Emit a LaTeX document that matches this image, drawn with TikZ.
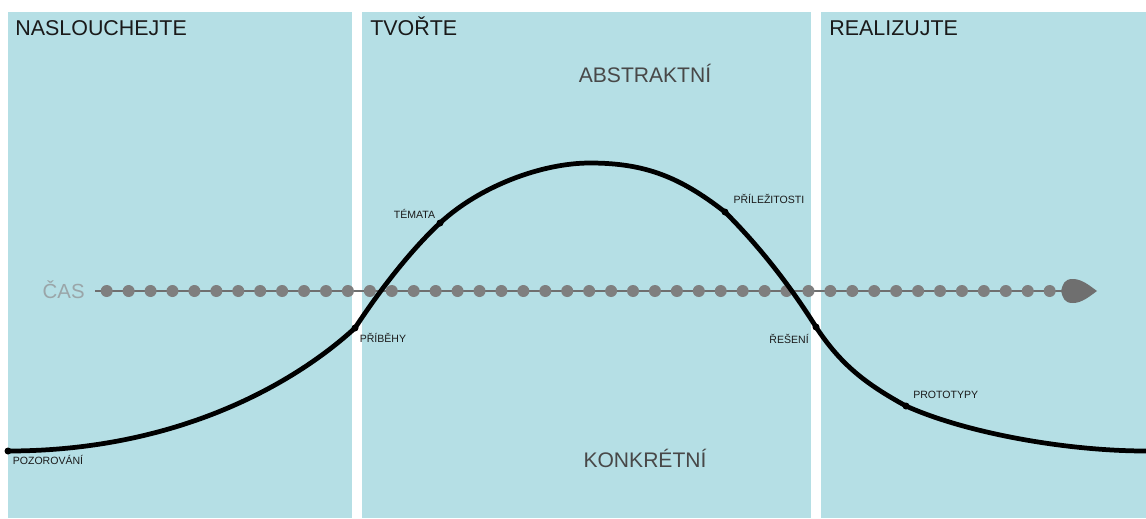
\documentclass[tikz,border=0pt]{standalone}
\usepackage{fontspec}
\setmainfont{Liberation Sans}
\usetikzlibrary{positioning}
\definecolor{panel}{HTML}{B5DFE5}
\definecolor{dotgray}{HTML}{7F7F7F}
\definecolor{linegray}{HTML}{6F6F6F}
\definecolor{timegray}{HTML}{9AA5A8}
\definecolor{ink}{HTML}{1A1A1A}
\tikzset{panelbox/.style={fill=panel,draw=none},
heading/.style={anchor=base west,font=\fontsize{12.2}{14}\selectfont,text=ink,inner sep=0pt},
level/.style={anchor=base,font=\fontsize{12}{14}\selectfont,text=ink!80,inner sep=0pt},
tick/.style={circle,fill=dotgray,minimum size=0.24cm,inner sep=0pt},
pt/.style={circle,fill=black,minimum size=0.14cm,inner sep=0pt},
lbl/.style={font=\fontsize{6}{7}\selectfont,text=ink,inner sep=1pt},
flow/.style={line width=2.7pt,black}}

\begin{document}
\begin{tikzpicture}[x=0.02cm,y=-0.02cm]
\useasboundingbox[fill=white] (0,0) rectangle (1146,518);
% three phases
\fill[panelbox] (8,12) rectangle (352,518);
\fill[panelbox] (362,12) rectangle (811,518);
\fill[panelbox] (821,12) rectangle (1146,518);
\node[heading] (h1) at (15,35) {NASLOUCHEJTE};
\node[heading] (h2) at (370,35) {TVOŘTE};
\node[heading] (h3) at (829,35) {REALIZUJTE};
\node[level] (abs) at (645,82) {ABSTRAKTNÍ};
\node[level] (kon) at (645,467) {KONKRÉTNÍ};
% time axis
\node[anchor=base east,inner sep=0pt,text=timegray,font=\fontsize{11.6}{14}\selectfont] (cas) at (85,298) {ČAS};
\coordinate (t0) at (95,291);
\coordinate (tip) at (1061,291);
\draw[linegray,line width=0.6pt] (t0) -- (tip);
\foreach \i in {0,...,43} \node[tick] (d\i) at ({106.7+21.93*\i},291) {};
\fill[linegray] (tip) .. controls (1063,284) and (1064,279) .. (1073,279)
  .. controls (1082,279) and (1090,286) .. (1097,291)
  .. controls (1090,296) and (1082,303) .. (1073,303)
  .. controls (1064,303) and (1063,298) .. (tip) -- cycle;
% curve
\node[pt,label={[lbl]below right:POZOROVÁNÍ}] (poz) at (8,451) {};
\node[pt,label={[lbl]below right:PŘÍBĚHY}] (pri) at (355,328) {};
\node[pt,label={[lbl]above left:TÉMATA}] (tem) at (440,223) {};
\coordinate (peak) at (590,163);
\node[pt,label={[lbl,label distance=3pt]above right:PŘÍLEŽITOSTI}] (pril) at (725,212) {};
\node[pt,label={[lbl,label distance=2pt]below left:ŘEŠENÍ}] (res) at (816,327) {};
\node[pt,label={[lbl,label distance=2pt]above right:PROTOTYPY}] (pro) at (906,406) {};
\coordinate (fin) at (1146,451);
\draw[flow] (poz.center) .. controls +(170,0) and +(-60,55) .. (pri.center)
  .. controls +(25,-38) and +(-30,28) .. (tem.center)
  .. controls +(40,-37) and +(-48,0) .. (peak)
  .. controls +(55,0) and +(-45,-35) .. (pril.center)
  .. controls +(35,35) and +(-25,-40) .. (res.center)
  .. controls +(25,38) and +(-40,-22) .. (pro.center)
  .. controls +(60,27) and +(-80,0) .. (fin);
\end{tikzpicture}
\end{document}
